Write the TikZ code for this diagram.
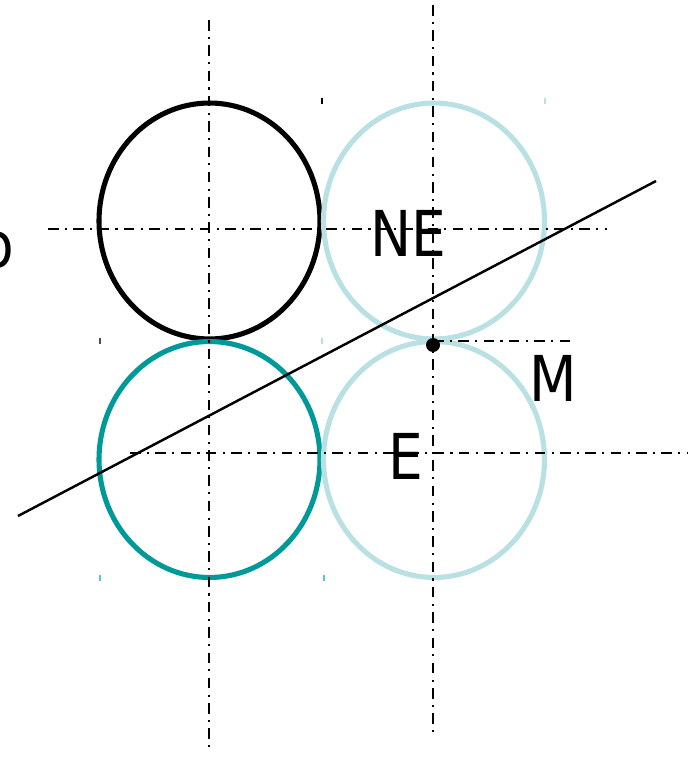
\documentclass[tikz,border=0pt]{standalone}
\usepackage{fontspec}
\setmainfont{DejaVu Sans}[FakeStretch=0.87]
\usepackage{xcolor}
\usepackage{tikz}
\usetikzlibrary{positioning,calc}
\definecolor{gdteal}{RGB}{0,153,153}
\definecolor{gdpale}{RGB}{185,224,226}
\tikzset{
  gdaxis/.style={line width=1.2pt, dash pattern=on 6pt off 3.6pt on 1.2pt off 3.6pt},
  gdcircle/.style={line width=2.9pt, x radius=2.21cm, y radius=2.36cm},
  gdline/.style={line width=1.4pt},
  gdlabel/.style={font=\fontsize{36}{40}\selectfont, inner sep=0pt},
  gdtick/.style={line width=0.6pt}
}

\begin{document}
\begin{tikzpicture}[x=0.02cm,y=-0.02cm]
  \useasboundingbox (0,0) rectangle (697,757);
  % centres of the four circles
  \coordinate (cNW) at (209.5,221);
  \coordinate (cNE) at (434,221);
  \coordinate (cSW) at (209.5,459.5);
  \coordinate (cSE) at (434,459.5);

  \draw[gdcircle,black] (cNW) ellipse [];
  \draw[gdcircle,gdteal] (cSW) ellipse [];
  \draw[gdcircle,gdpale] (cNE) ellipse [];
  \draw[gdcircle,gdpale] (cSE) ellipse [];

  % corner ticks
  \draw[gdtick,black] (322,98) -- (322,104);
  \draw[gdtick,black!70] (100,338) -- (100,344);
  \draw[gdtick,gdpale] (545,98) -- (545,104);
  \draw[gdtick,gdpale] (322,338) -- (322,344);
  \draw[gdtick,gdteal!60] (100,575) -- (100,581);
  \draw[gdtick,gdteal!60] (324,575) -- (324,581);

  % centre lines
  \coordinate (v1a) at (209,20);  \coordinate (v1b) at (209,752);
  \coordinate (v2a) at (433,5);   \coordinate (v2b) at (433,737);
  \coordinate (h1a) at (48,229);  \coordinate (h1b) at (607,229);
  \coordinate (h2a) at (130,453); \coordinate (h2b) at (687,453);
  \coordinate (mEnd) at (572,341);
  \draw[gdaxis] (v1a) -- (v1b);
  \draw[gdaxis] (v2a) -- (v2b);
  \draw[gdaxis] (h1a) -- (h1b);
  \draw[gdaxis] (h2a) -- (h2b);

  % point M
  \coordinate (m) at (433,345);
  \draw[gdaxis] (m |- mEnd) -- (mEnd);
  \fill (m) circle [radius=0.14cm];

  \coordinate (dA) at (18,516);
  \coordinate (dB) at (656,181);
  \draw[gdline] (dA) -- (dB);

  \node[gdlabel] (ne) at (408,233) {NE};
  \node[gdlabel] (e) at (406,456) {E};
  \node[gdlabel] (mlab) at (553,378) {M};
  \node[gdlabel,anchor=east] (o) at (15,250) {o};
\end{tikzpicture}
\end{document}
